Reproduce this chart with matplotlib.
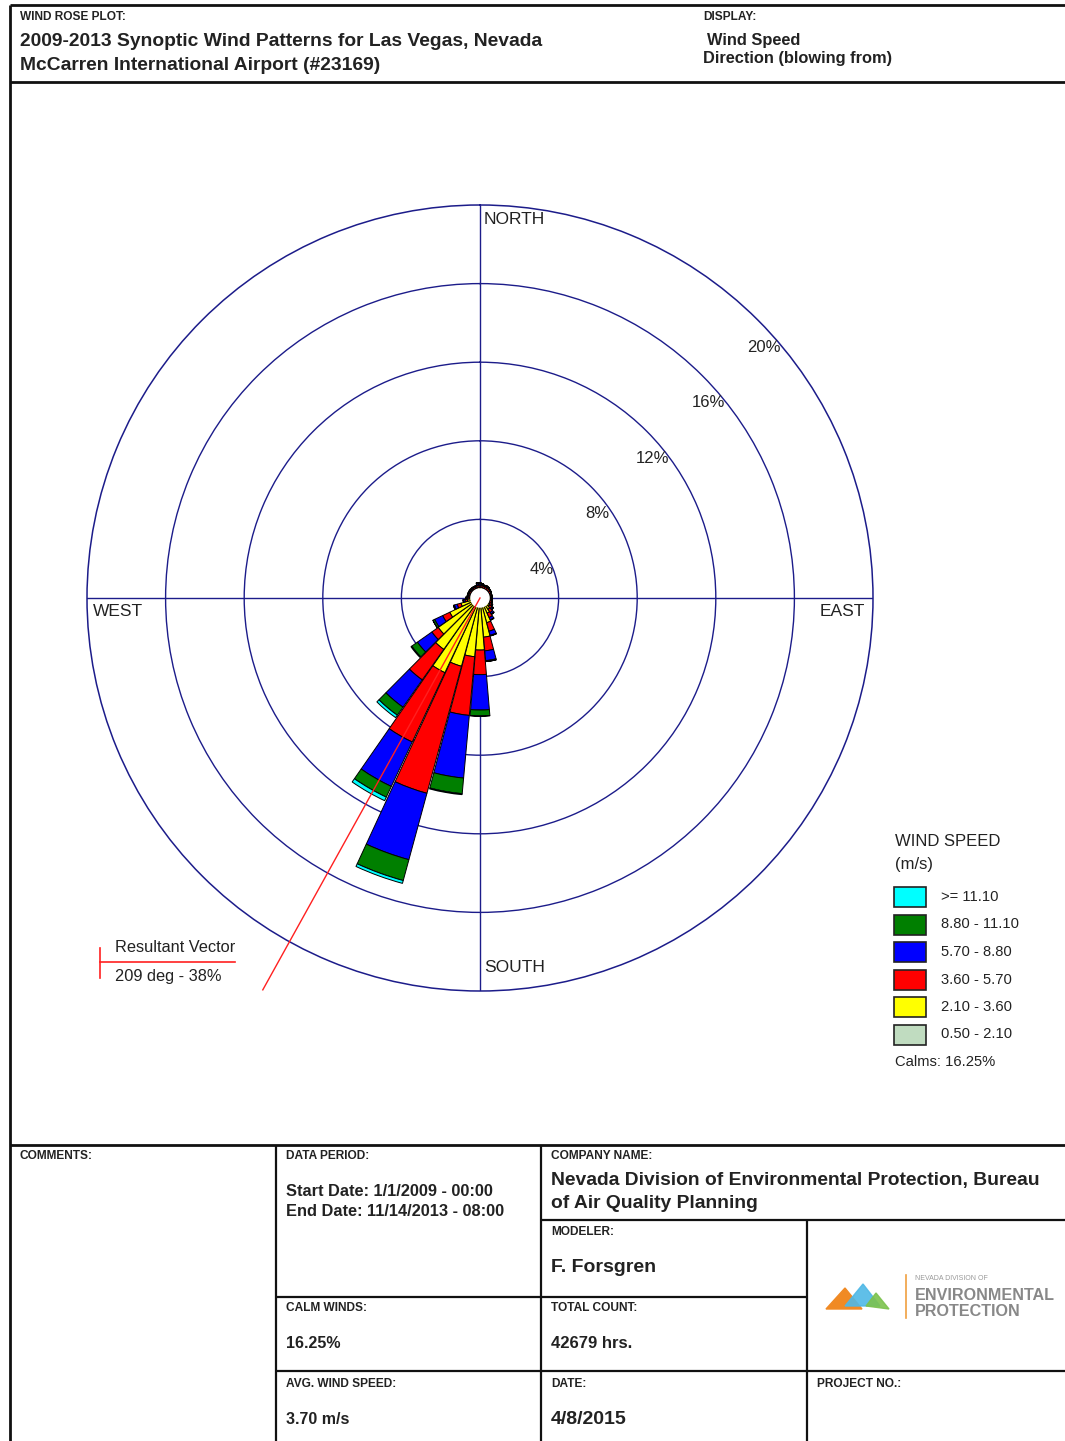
import numpy as np
import matplotlib
matplotlib.use("Agg")
import matplotlib.pyplot as plt
from matplotlib.patches import Rectangle, Polygon

plt.rcParams['font.family'] = ['Liberation Sans', 'DejaVu Sans']

# データ（風向ごと・風速階級ごとの出現頻度 %）
directions = np.arange(0, 360, 10)
speed_labels = ['0.50 - 2.10', '2.10 - 3.60', '3.60 - 5.70', '5.70 - 8.80', '8.80 - 11.10', '>= 11.10']
speed_colors = ['#c0dcc0', '#ffff00', '#ff0000', '#0000ff', '#007f00', '#00ffff']

freq_0_5 = [0.40] * 36
freq_2_1 = [0.15, 0.15, 0.12, 0.12, 0.12, 0.12, 0.12, 0.12, 0.12, 0.12, 0.12, 0.12,
            0.15, 0.20, 0.30, 0.45, 0.90, 1.60, 2.25, 2.60, 3.20, 3.80, 2.80, 2.20,
            1.30, 0.60, 0.25, 0.15, 0.12, 0.12, 0.12, 0.12, 0.12, 0.12, 0.12, 0.15]
freq_3_6 = [0.10, 0.10, 0.10, 0.12, 0.12, 0.10, 0.10, 0.08, 0.08, 0.08, 0.08, 0.10,
            0.12, 0.15, 0.20, 0.25, 0.45, 0.70, 1.25, 3.00, 6.70, 3.90, 1.90, 0.40,
            0.40, 0.20, 0.12, 0.10, 0.08, 0.08, 0.08, 0.08, 0.08, 0.08, 0.08, 0.10]
freq_5_7 = [0.08, 0.06, 0.05, 0.05, 0.05, 0.03, 0.03, 0.02, 0.02, 0.02, 0.02, 0.03,
            0.04, 0.08, 0.10, 0.13, 0.22, 0.50, 1.80, 3.20, 3.50, 2.50, 1.70, 0.90,
            0.45, 0.15, 0.08, 0.05, 0.04, 0.04, 0.04, 0.04, 0.04, 0.04, 0.04, 0.08]
freq_8_8 = [0.06, 0.03, 0.02, 0.02, 0.01, 0.01, 0.00, 0.00, 0.00, 0.00, 0.00, 0.00,
            0.01, 0.01, 0.02, 0.02, 0.03, 0.05, 0.30, 0.80, 1.10, 0.60, 0.50, 0.35,
            0.10, 0.05, 0.02, 0.02, 0.02, 0.02, 0.02, 0.02, 0.02, 0.02, 0.02, 0.06]
freq_11_1 = [0.00] * 18 + [0.02, 0.05, 0.15, 0.20, 0.15, 0.05] + [0.00] * 12

calms = 16.25
resultant_dir = 209
resultant_pct = 38
ring_values = [4, 8, 12, 16, 20]

freqs = [freq_0_5, freq_2_1, freq_3_6, freq_5_7, freq_8_8, freq_11_1]

W, H = 1065, 1441
fig = plt.figure(figsize=(W / 100, H / 100), dpi=100)

# ページ枠・テキスト用（ピクセル座標）
ax0 = fig.add_axes([0, 0, 1, 1])
ax0.set_xlim(0, W)
ax0.set_ylim(H, 0)
ax0.axis('off')

# 風配図
cx, cy, R = 480, 598, 393
ax = fig.add_axes([(cx - R) / W, (H - cy - R) / H, 2 * R / W, 2 * R / H], projection='polar')
ax.set_theta_zero_location('N')
ax.set_theta_direction(-1)
ax.set_ylim(0, 20)
ax.set_rticks(ring_values[:-1])
ax.set_yticklabels([])
ax.set_xticks(np.radians([0, 90, 180, 270]))
ax.set_xticklabels([])
ax.grid(True, color='#1c1c8a', lw=1.0, ls='-')
ax.spines['polar'].set_color('#1c1c8a')
ax.spines['polar'].set_linewidth(1.1)
ax.set_facecolor('none')
ax.tick_params(length=0)

theta = np.radians(directions)
bottom = np.zeros(36)
for vals, col in zip(freqs, speed_colors):
    vals = np.array(vals)
    ax.bar(theta, vals, width=np.radians(9.6), bottom=bottom, color=col,
           edgecolor='black', linewidth=0.7, zorder=3)
    bottom = bottom + vals

# 静穏の円
tt = np.linspace(0, 2 * np.pi, 200)
ax.fill(tt, np.full(200, 0.46), color='white', zorder=5)

# 合成ベクトル
ax.plot([np.radians(resultant_dir)] * 2, [0, 22.8], color='#ff2020', lw=1.0,
        zorder=6, clip_on=False)

# 目盛ラベル
for v in ring_values:
    ax.annotate(f"{v}%", xy=(np.radians(45), v), xytext=(6, -27),
                textcoords='offset pixels', ha='center', va='center',
                fontsize=12, color='#222222', zorder=7)

tc = '#222222'
ax0.text(484, 219, 'NORTH', fontsize=12.5, color=tc, va='center', ha='left')
ax0.text(484, 968, 'SOUTH', fontsize=12.5, color=tc, va='center', ha='left')
ax0.text(93, 611, 'WEST', fontsize=12.5, color=tc, va='center', ha='left')
ax0.text(820, 611, 'EAST', fontsize=12.5, color=tc, va='center', ha='left')

# 合成ベクトル凡例
ax0.plot([100, 235], [962, 962], color='#ff2020', lw=1.2)
ax0.plot([100, 100], [948, 978], color='#ff2020', lw=1.2)
ax0.text(115, 947, 'Resultant Vector', fontsize=11.8, color=tc, va='center')
ax0.text(115, 976, f'{resultant_dir} deg - {resultant_pct}%', fontsize=11.8, color=tc, va='center')

# 風速凡例
ax0.text(895, 842, 'WIND SPEED', fontsize=12, color=tc, va='center')
ax0.text(895, 864, '(m/s)', fontsize=12, color=tc, va='center')
for i, (lab, col) in enumerate(zip(speed_labels[::-1], speed_colors[::-1])):
    y = 897 + i * 27.5
    ax0.add_patch(Rectangle((894, y - 10), 32, 20, facecolor=col, edgecolor='#222222', lw=1.2))
    ax0.text(941, y, lab, fontsize=10.6, color=tc, va='center')
ax0.text(895, 1062, f'Calms: {calms:.2f}%', fontsize=10.6, color=tc, va='center')

# 枠線
lc = '#111111'
def hline(y, x0, x1, lw=1.6):
    ax0.plot([x0, x1], [y, y], color=lc, lw=lw, solid_capstyle='butt')
def vline(x, y0, y1, lw=1.6):
    ax0.plot([x, x], [y0, y1], color=lc, lw=lw, solid_capstyle='butt')

hline(5, 10, W, 2)
vline(10, 5, H, 2)
hline(82, 10, W, 2)
hline(1145, 10, W, 2)
vline(276, 1145, H)
vline(541, 1145, H)
vline(807, 1220, H)
hline(1220, 541, W)
hline(1297, 276, 807)
hline(1371, 276, W)

# ヘッダー
small = dict(fontsize=8.6, weight='bold', color=tc, va='center')
ax0.text(20, 17, 'WIND ROSE PLOT:', **small)
ax0.text(20, 42, '2009-2013 Synoptic Wind Patterns for Las Vegas, Nevada',
         fontsize=13.9, weight='bold', color=tc, va='center')
ax0.text(20, 65, 'McCarren International Airport (#23169)',
         fontsize=13.9, weight='bold', color=tc, va='center')
ax0.text(703, 17, 'DISPLAY:', **small)
ax0.text(707, 40, 'Wind Speed', fontsize=11.8, weight='bold', color=tc, va='center')
ax0.text(703, 58, 'Direction (blowing from)', fontsize=11.8, weight='bold', color=tc, va='center')

# フッター
ax0.text(20, 1156, 'COMMENTS:', **small)
ax0.text(286, 1156, 'DATA PERIOD:', **small)
ax0.text(286, 1192, 'Start Date: 1/1/2009 - 00:00', fontsize=11.8, weight='bold', color=tc, va='center')
ax0.text(286, 1211, 'End Date: 11/14/2013 - 08:00', fontsize=11.8, weight='bold', color=tc, va='center')
ax0.text(551, 1156, 'COMPANY NAME:', **small)
ax0.text(551, 1180, 'Nevada Division of Environmental Protection, Bureau', fontsize=13.9, weight='bold', color=tc, va='center')
ax0.text(551, 1203, 'of Air Quality Planning', fontsize=13.9, weight='bold', color=tc, va='center')
ax0.text(551, 1232, 'MODELER:', **small)
ax0.text(551, 1268, 'F. Forsgren', fontsize=14, weight='bold', color=tc, va='center')
ax0.text(286, 1308, 'CALM WINDS:', **small)
ax0.text(286, 1343, f'{calms:.2f}%', fontsize=11.5, weight='bold', color=tc, va='center')
ax0.text(551, 1308, 'TOTAL COUNT:', **small)
ax0.text(551, 1343, '42679 hrs.', fontsize=12, weight='bold', color=tc, va='center')
ax0.text(286, 1384, 'AVG. WIND SPEED:', **small)
ax0.text(286, 1419, '3.70 m/s', fontsize=11.5, weight='bold', color=tc, va='center')
ax0.text(551, 1384, 'DATE:', **small)
ax0.text(551, 1419, '4/8/2015', fontsize=14, weight='bold', color=tc, va='center')
ax0.text(817, 1384, 'PROJECT NO.:', **small)

# ロゴ
ax0.add_patch(Polygon([[826, 1309], [845, 1288], [862, 1309]], color='#f08a24'))
ax0.add_patch(Polygon([[845, 1306], [863, 1284], [880, 1306]], color='#4fb8e6', alpha=0.9))
ax0.add_patch(Polygon([[866, 1306], [876, 1293], [889, 1309]], color='#7cc24e', alpha=0.9))
ax0.plot([906, 906], [1275, 1318], color='#f0a040', lw=1.2)
ax0.text(915, 1278, 'NEVADA DIVISION OF', fontsize=5, color='#999999', va='center')
ax0.text(915, 1295, 'ENVIRONMENTAL', fontsize=11.6, weight='bold', color='#888888', va='center')
ax0.text(915, 1312, 'PROTECTION', fontsize=11.6, weight='bold', color='#888888', va='center')

fig.savefig('out.png', dpi=100, facecolor='white')
